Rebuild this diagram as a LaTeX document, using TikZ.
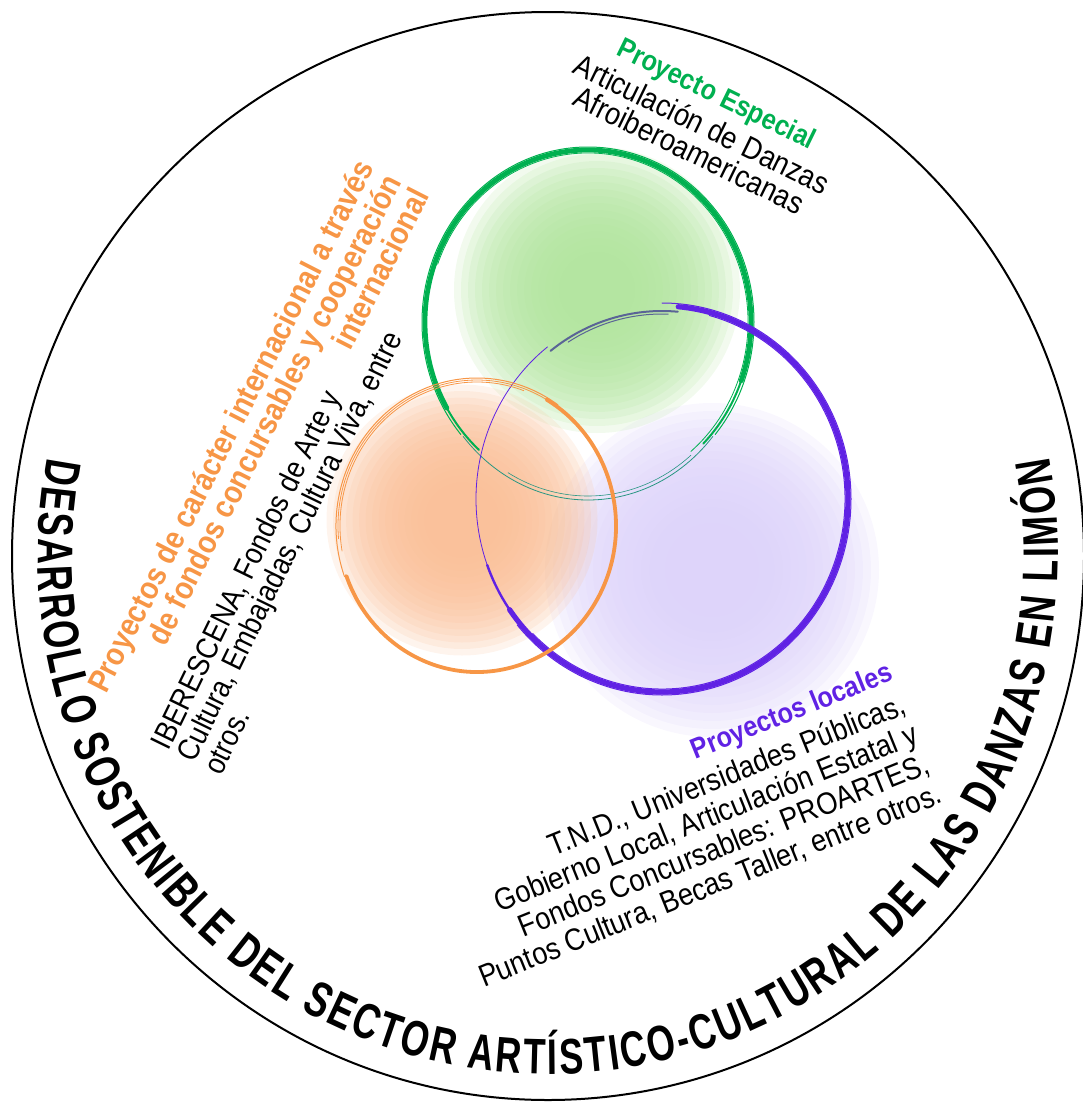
\documentclass[tikz,border=0pt]{standalone}
\usepackage{fontspec}
\setmainfont{Liberation Sans}
\newfontfamily\narrowfont[FakeStretch=0.88]{Liberation Sans}
\newfontfamily\ringfont[FakeStretch=0.72]{Liberation Sans}

\definecolor{espgreen}{RGB}{0,176,80}
\definecolor{blobgreen}{RGB}{176,228,156}
\definecolor{teallink}{RGB}{40,150,130}
\definecolor{intorange}{RGB}{247,150,70}
\definecolor{bloborange}{RGB}{250,190,150}
\definecolor{locpurple}{RGB}{96,34,228}
\definecolor{blobpurple}{RGB}{220,210,250}
\definecolor{strandgrey}{RGB}{90,100,150}

\newcommand{\blocktitlefont}{\narrowfont\bfseries\fontsize{14.3}{14.5}\selectfont}
\newcommand{\intltitlefont}{\narrowfont\bfseries\fontsize{16}{15.5}\selectfont}
\newcommand{\blockbodyfont}{\narrowfont\fontsize{15.5}{14.5}\selectfont}
\newcommand{\intlbodyfont}{\narrowfont\fontsize{15.3}{14.5}\selectfont}
\newcommand{\locbodyfont}{\narrowfont\fontsize{15.5}{16}\selectfont}
\newcommand{\ringtextfont}{\ringfont\bfseries\fontsize{25}{25}\selectfont}

\usetikzlibrary{decorations.text}

\tikzset{
  blobstep/.style={fill opacity=0.17},
  brush/.style={line cap=round},
  textblock/.style={inner sep=0pt}
}

\begin{document}
\begin{tikzpicture}[x=0.5pt, y=-0.5pt]
    \useasboundingbox (0,0) rectangle (1082,1103);

    % === Soft fills (stacked translucent discs) ===
    \foreach \k in {1,...,16}
        \fill[blobpurple, blobstep] (712,570) circle[radius={175-8*\k}];
    \foreach \k in {1,...,16}
        \fill[blobgreen, blobstep] (597,290) circle[radius={150-7*\k}];
    \foreach \k in {1,...,16}
        \fill[bloborange, blobstep] (462,520) circle[radius={142-6.5*\k}];

    % === Green ring (Proyecto Especial) ===
    \begin{scope}[shift={(588,322)}, espgreen, brush]
        \draw[line width=2.4pt] (150:163 and 172) arc[start angle=150, end angle=380, x radius=163, y radius=172];
        \draw[line width=1pt] (132:163 and 172) arc[start angle=132, end angle=150, x radius=163, y radius=172];
        \draw[line width=1pt] (380:163 and 172) arc[start angle=380, end angle=405, x radius=163, y radius=172];
        \draw[line width=0.5pt] (140:166 and 175) arc[start angle=140, end angle=400, x radius=166, y radius=175];
        \draw[line width=0.4pt] (200:160 and 169) arc[start angle=200, end angle=410, x radius=160, y radius=169];
        \draw[teallink, line width=0.4pt] (40:163 and 178) arc[start angle=40, end angle=140, x radius=163, y radius=178];
        \draw[teallink, line width=0.3pt] (50:160 and 174) arc[start angle=50, end angle=120, x radius=160, y radius=174];
    \end{scope}

    % === Purple ring (Proyectos locales) ===
    \begin{scope}[shift={(662,499)}, locpurple, brush]
        \draw[line width=2.6pt] (275:186 and 193) arc[start angle=275, end angle=505, x radius=186, y radius=193];
        \draw[line width=1.2pt] (505:186 and 193) arc[start angle=505, end angle=520, x radius=186, y radius=193];
        \draw[line width=0.5pt] (270:189 and 196) arc[start angle=270, end angle=500, x radius=189, y radius=196];
        \draw[line width=0.5pt] (285:183 and 190) arc[start angle=285, end angle=495, x radius=183, y radius=190];
        \draw[line width=0.4pt] (140:186 and 193) arc[start angle=140, end angle=232, x radius=186, y radius=193];
        \draw[strandgrey, line width=1pt] (232:181 and 188) arc[start angle=232, end angle=275, x radius=181, y radius=188];
        \draw[strandgrey, line width=0.5pt] (238:177 and 185) arc[start angle=238, end angle=272, x radius=177, y radius=185];
    \end{scope}

    % === Orange ring (Proyectos internacionales) ===
    \begin{scope}[shift={(477,526)}, intorange, brush]
        \draw[line width=1.9pt] (300:139 and 146) arc[start angle=300, end angle=520, x radius=139, y radius=146];
        \draw[line width=0.5pt] (160:141 and 148) arc[start angle=160, end angle=305, x radius=141, y radius=148];
        \draw[line width=0.4pt] (170:137 and 144) arc[start angle=170, end angle=290, x radius=137, y radius=144];
        \draw[line width=0.4pt] (175:139 and 146) arc[start angle=175, end angle=300, x radius=139, y radius=146];
    \end{scope}

    % === Labels ===
    \node[textblock, rotate=-26, align=center, font=\blockbodyfont] (esp) at (703,122)
        {{\blocktitlefont\color{espgreen}Proyecto Especial}\\[3pt]Articulación de Danzas\\Afroiberoamericanas};

    \node[textblock, rotate=63, align=right, font=\intltitlefont, text=intorange] (intl) at (258,440)
        {Proyectos de carácter internacional a través\\de fondos concursables y cooperación\\internacional};
    \node[textblock, rotate=64, align=left, font=\intlbodyfont] (intlbody) at (289,546)
        {IBERESCENA, Fondos de Arte y\\Cultura, Embajadas, Cultura Viva, entre\\otros.};

    \node[textblock, rotate=22, align=right, font=\locbodyfont] (loc) at (686,826)
        {{\blocktitlefont\color{locpurple}Proyectos locales}\\[2pt]T.N.D., Universidades Públicas,\\Gobierno Local, Articulación Estatal y\\Fondos Concursables: PROARTES,\\Puntos Cultura, Becas Taller, entre otros.};

    % === Outer circle and its title ===
    \draw[line width=1pt] (548,556) ellipse[x radius=536, y radius=544];
    \path[decorate, decoration={text along path, text align=fit to path,
          text={|\ringtextfont|DESARROLLO SOSTENIBLE DEL SECTOR ARTÍSTICO-CULTURAL DE LAS DANZAS EN LIMÓN}}]
        (548,556) ++(191:510 and 518) arc[start angle=191, end angle=-11, x radius=510, y radius=518];
\end{tikzpicture}
\end{document}
